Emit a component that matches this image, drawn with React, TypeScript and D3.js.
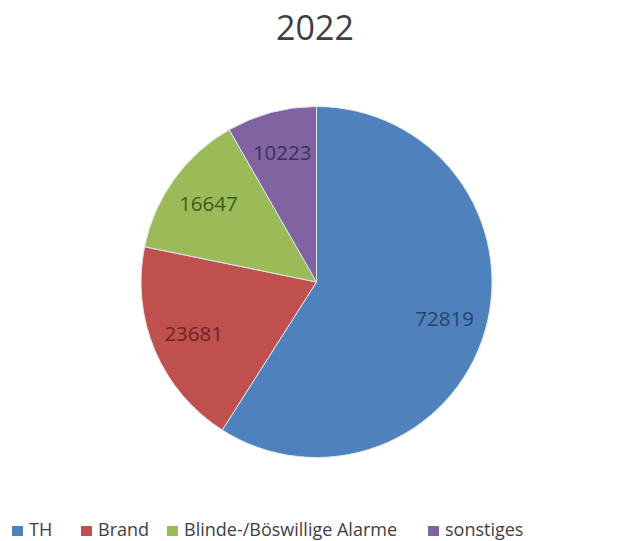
import React from "react";
import * as d3 from "d3";

const categories = ["TH", "Brand", "Blinde-/Böswillige Alarme", "sonstiges"];
const values = [72819, 23681, 16647, 10223];
const colors = ["#4F81BD", "#C0504D", "#9BBB59", "#8064A2"];
const labelColors = ["#26456b", "#6b2523", "#3f5a1c", "#3e2f5c"];
const title = "2022";

export default function App() {
  const W = 628, H = 541;
  const cx = 316.5, cy = 282, r = 175.5;
  const pie = d3.pie<number>().sort(null).value((d) => d)(values);
  const arc = d3.arc<d3.PieArcDatum<number>>().innerRadius(0).outerRadius(r);
  const labelArc = d3.arc<d3.PieArcDatum<number>>().innerRadius(r * 0.76).outerRadius(r * 0.76);
  const legendX = [12, 81, 167, 428];
  const font = "'Open Sans', sans-serif";
  return (
    <svg width={W} height={H} style={{ position: "absolute", left: 0, top: 0, background: "#fff" }}>
      <text x={315} y={40} textAnchor="middle" fontFamily={font} fontSize={34} fill="#404040">{title}</text>
      <g transform={`translate(${cx},${cy})`}>
        {pie.map((p, i) => (
          <path key={i} d={arc(p) || ""} fill={colors[i]} stroke="#dfe6ee" strokeWidth={1} />
        ))}
        {pie.map((p, i) => {
          const [x, y] = labelArc.centroid(p);
          return (
            <text key={i} x={x} y={y} dy="0.35em" textAnchor="middle" fontFamily={font} fontSize={20.5} fill={labelColors[i]}>
              {values[i]}
            </text>
          );
        })}
      </g>
      <g>
        {categories.map((c, i) => (
          <g key={i}>
            <rect x={legendX[i]} y={526} width={11} height={10} fill={colors[i]} />
            <text x={legendX[i] + 17} y={536} fontFamily={font} fontSize={18} fill="#404040">{c}</text>
          </g>
        ))}
      </g>
    </svg>
  );
}
